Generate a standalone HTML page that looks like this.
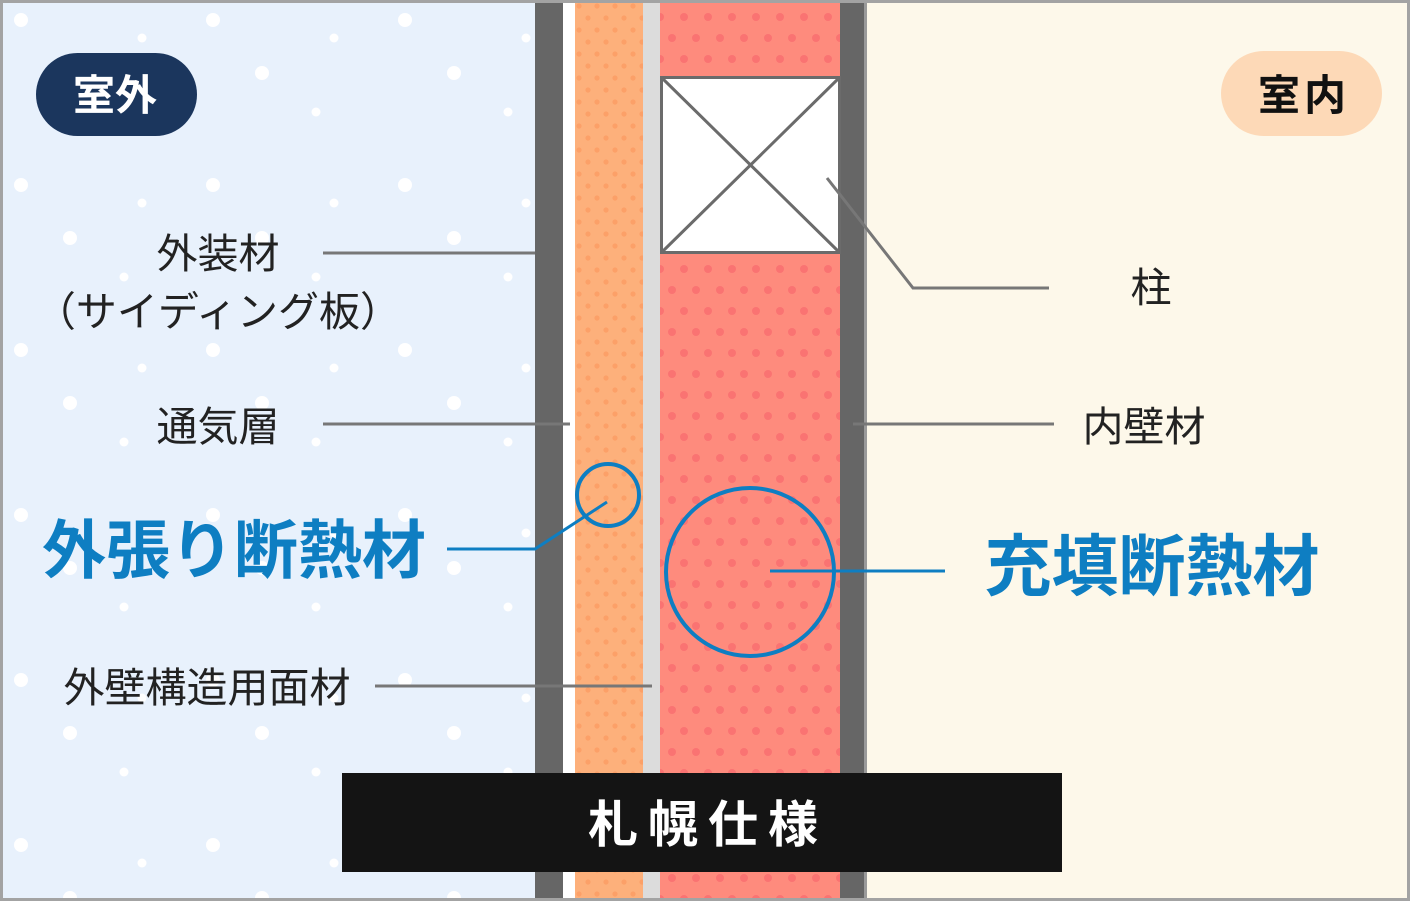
<!DOCTYPE html>
<html><head><meta charset="utf-8"><style>
html,body{margin:0;padding:0;width:1410px;height:901px;overflow:hidden;background:#fff}
svg{display:block}
text{font-family:"Liberation Sans","Noto Sans CJK JP",sans-serif}
</style></head><body>
<svg width="1410" height="901" viewBox="0 0 1410 901" xmlns="http://www.w3.org/2000/svg">
<defs>
<pattern id="snow" x="0" y="0" width="192" height="165" patternUnits="userSpaceOnUse">
<circle cx="21" cy="20" r="7" fill="#fff"/>
<circle cx="70" cy="73" r="7" fill="#fff"/>
<circle cx="142" cy="38" r="4.5" fill="#fff"/>
<circle cx="124" cy="112" r="4.5" fill="#fff"/>
</pattern>
<pattern id="odots" x="575" y="0" width="18" height="24" patternUnits="userSpaceOnUse">
<circle cx="4" cy="6" r="2.6" fill="#fca068"/>
<circle cx="13" cy="18" r="2.6" fill="#fca068"/>
</pattern>
<pattern id="rdots" x="660" y="0" width="24" height="42" patternUnits="userSpaceOnUse">
<circle cx="0" cy="17" r="4" fill="#fa7372"/>
<circle cx="24" cy="17" r="4" fill="#fa7372"/>
<circle cx="12" cy="38" r="4" fill="#fa7372"/>
</pattern>
</defs>
<rect width="1410" height="901" fill="#a3a3a3"/>
<rect x="3" y="3" width="532" height="895" fill="#e8f1fc"/>
<rect x="3" y="3" width="532" height="895" fill="url(#snow)"/>
<rect x="867" y="3" width="540" height="895" fill="#fdf8ea"/>
<rect x="535" y="3" width="28" height="895" fill="#666"/>
<rect x="563" y="3" width="12" height="895" fill="#fff"/>
<rect x="575" y="3" width="68" height="895" fill="#fdb07b"/>
<rect x="575" y="3" width="68" height="895" fill="url(#odots)"/>
<rect x="643" y="3" width="17" height="895" fill="#dcdcdc"/>
<rect x="660" y="3" width="180" height="895" fill="#fe8b7d"/>
<rect x="660" y="3" width="180" height="895" fill="url(#rdots)"/>
<rect x="840" y="3" width="24" height="895" fill="#666"/>
<rect x="864" y="3" width="3" height="895" fill="#9a9a9a"/>
<!-- post -->
<rect x="661.5" y="77.5" width="178" height="175" fill="#fff" stroke="#6b6b6b" stroke-width="3"/>
<line x1="662" y1="78" x2="839" y2="252" stroke="#6b6b6b" stroke-width="3"/>
<line x1="839" y1="78" x2="662" y2="252" stroke="#6b6b6b" stroke-width="3"/>
<!-- pills -->
<rect x="36" y="53" width="161" height="83" rx="41.5" fill="#1b365d"/>
<text x="115" y="110" text-anchor="middle" font-size="42" font-weight="bold" fill="#fff">室外</text>
<rect x="1221" y="51" width="161" height="85" rx="42.5" fill="#fdd9b7"/>
<text x="1304" y="110" text-anchor="middle" font-size="42" font-weight="bold" fill="#111" letter-spacing="4">室内</text>
<!-- gray leader lines -->
<g stroke="#777" stroke-width="3" fill="none">
<line x1="323" y1="253" x2="535" y2="253"/>
<line x1="323" y1="424" x2="570" y2="424"/>
<line x1="375" y1="686" x2="652" y2="686"/>
<polyline points="827,178 913,288 1049,288"/>
<line x1="853" y1="424" x2="1054" y2="424"/>
</g>
<g font-size="41" fill="#222">
<text x="218" y="268" text-anchor="middle">外装材</text>
<text x="218" y="326" text-anchor="middle">（サイディング板）</text>
<text x="218" y="441" text-anchor="middle">通気層</text>
<text x="207" y="702" text-anchor="middle">外壁構造用面材</text>
<text x="1151" y="302" text-anchor="middle">柱</text>
<text x="1144" y="441" text-anchor="middle">内壁材</text>
</g>
<!-- blue -->
<g stroke="#0e7ec2" fill="none">
<circle cx="608" cy="495" r="31" stroke-width="4"/>
<polyline points="447,549 535,549 607,502" stroke-width="3"/>
<circle cx="750" cy="572" r="84" stroke-width="4"/>
<line x1="770" y1="571" x2="945" y2="571" stroke-width="3"/>
</g>
<text x="234" y="573" text-anchor="middle" font-size="64" font-weight="bold" fill="#0e7ec2">外張り断熱材</text>
<text x="1152" y="590" text-anchor="middle" font-size="67" font-weight="bold" fill="#0e7ec2">充填断熱材</text>
<!-- bottom -->
<rect x="342" y="773" width="720" height="99" fill="#141414"/>
<text x="708" y="842" text-anchor="middle" font-size="50" font-weight="bold" fill="#fff" letter-spacing="10">札幌仕様</text>
</svg>
</body></html>
